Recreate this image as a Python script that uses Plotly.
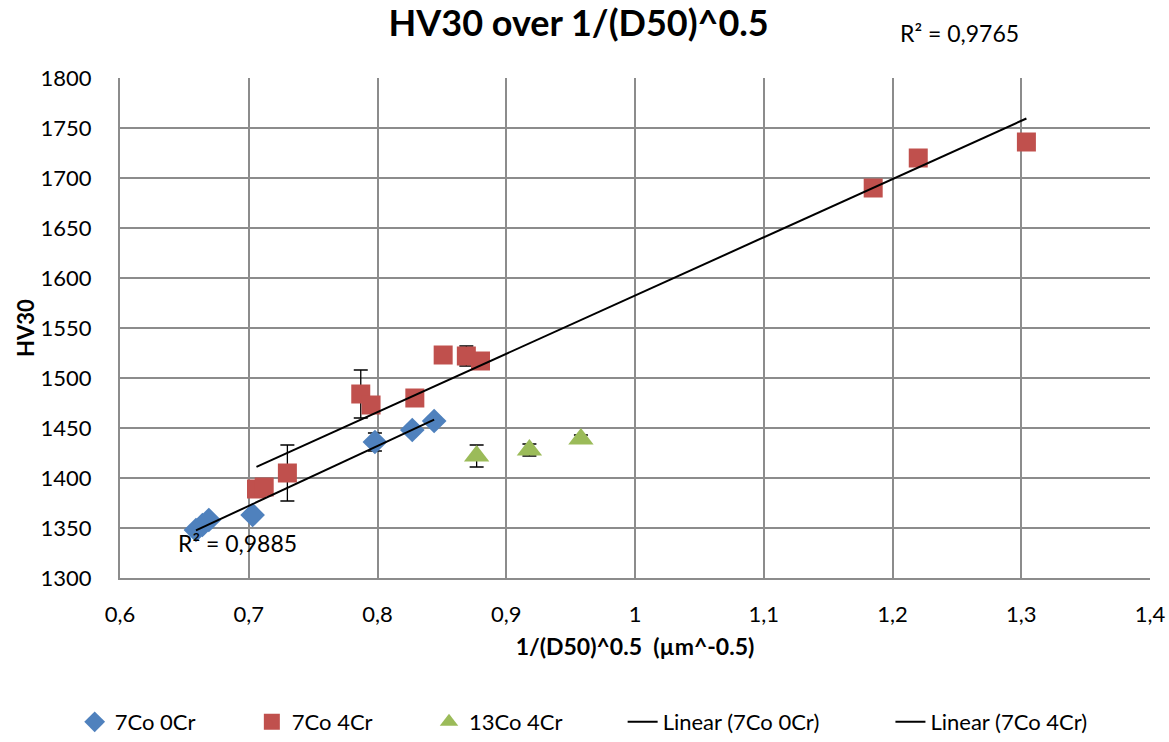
import numpy as np
import plotly.graph_objects as go

# 7Co 0Cr
x_7co0cr = [0.659, 0.664, 0.669, 0.703, 0.798, 0.827, 0.844]
y_7co0cr = [1348, 1353, 1358, 1363, 1436, 1448, 1457]
e_7co0cr = [0, 0, 4, 0, 9, 0, 4]

# 7Co 4Cr
x_7co4cr = [0.706, 0.712, 0.730, 0.787, 0.795, 0.829, 0.851, 0.869, 0.880, 1.185, 1.220, 1.304]
y_7co4cr = [1389, 1391, 1405, 1484, 1473, 1480, 1523, 1522, 1517, 1690, 1720, 1736]
e_7co4cr = [0, 0, 28, 24, 0, 0, 0, 10, 0, 0, 0, 0]

# 13Co 4Cr
x_13co4cr = [0.877, 0.918, 0.958]
y_13co4cr = [1422, 1428, 1439]
e_13co4cr = [11, 6, 4]

x_tickvals = [0.6, 0.7, 0.8, 0.9, 1.0, 1.1, 1.2, 1.3, 1.4]
x_ticktext = ["0,6", "0,7", "0,8", "0,9", "1", "1,1", "1,2", "1,3", "1,4"]

r2_labels = ["R² = 0,9885", "R² = 0,9765"]

BLUE = "#4F81BD"
RED = "#C0504D"
GREEN = "#9BBB59"
FONT = "Lato, Carlito, Calibri, sans-serif"
TXT = dict(color="black", family=FONT)


def trend(xs, ys):
    k, b = np.polyfit(xs, ys, 1)
    xr = np.array([min(xs), max(xs)])
    return xr, k * xr + b


fig = go.Figure()

err_style = dict(type="data", visible=True, color="black", thickness=1.3, width=7)

fig.add_trace(go.Scatter(
    x=x_7co0cr, y=y_7co0cr, mode="markers", name="7Co 0Cr", legend="legend",
    marker=dict(symbol="diamond", size=19, color=BLUE),
    error_y=dict(array=e_7co0cr, **err_style),
))
fig.add_trace(go.Scatter(
    x=x_7co4cr, y=y_7co4cr, mode="markers", name="7Co 4Cr", legend="legend2",
    marker=dict(symbol="square", size=19, color=RED),
    error_y=dict(array=e_7co4cr, **err_style),
))
fig.add_trace(go.Scatter(
    x=x_13co4cr, y=y_13co4cr, mode="markers", name="13Co 4Cr", legend="legend3",
    marker=dict(symbol="triangle-up", size=22, color=GREEN),
    error_y=dict(array=e_13co4cr, **err_style),
))

tx0, ty0 = trend(x_7co0cr, y_7co0cr)
fig.add_trace(go.Scatter(x=tx0, y=ty0, mode="lines", name="Linear (7Co 0Cr)",
                         legend="legend4", line=dict(color="black", width=2)))
tx4, ty4 = trend(x_7co4cr, y_7co4cr)
fig.add_trace(go.Scatter(x=tx4, y=ty4, mode="lines", name="Linear (7Co 4Cr)",
                         legend="legend5", line=dict(color="black", width=2)))

fig.add_annotation(x=0.691, y=1335, text=r2_labels[0], showarrow=False,
                   xanchor="center", yanchor="middle", font=dict(size=23, **TXT))
fig.add_annotation(x=(959 - 120) / 1030, xref="paper", y=1.09, yref="paper",
                   xanchor="center", yanchor="middle",
                   text=r2_labels[1], showarrow=False, font=dict(size=23, **TXT))

axis_style = dict(showgrid=True, gridcolor="#8C8C8C", gridwidth=2, zeroline=False,
                  showline=True, linecolor="#8C8C8C", linewidth=2,
                  ticks="", tickfont=dict(size=22, **TXT))

legend_common = dict(orientation="h", y=-0.288, yanchor="middle", xanchor="left",
                     font=dict(size=22, **TXT), itemwidth=30,
                     bgcolor="rgba(0,0,0,0)")
legend_x = [-0.044, 0.128, 0.300, 0.488, 0.748]

fig.update_layout(
    width=1169, height=742,
    paper_bgcolor="white", plot_bgcolor="white",
    margin=dict(l=120, r=19, t=78, b=164, autoexpand=False),
    title=dict(text="<b>HV30 over 1/(D50)^0.5</b>", x=0.495, xanchor="center",
               y=0.969, yanchor="middle", font=dict(size=36, **TXT)),
    xaxis=dict(range=[0.6, 1.4], tickvals=x_tickvals, ticktext=x_ticktext,
               ticklabelstandoff=16,
               title=dict(text="<b>1/(D50)^0.5  (µm^-0.5)</b>",
                          font=dict(size=23, **TXT), standoff=12),
               **axis_style),
    yaxis=dict(range=[1300, 1800], dtick=50, ticklabelstandoff=22,
               title=dict(text="<b>HV30</b>", font=dict(size=22, **TXT), standoff=0),
               **axis_style),
    legend=dict(x=legend_x[0], **legend_common),
    legend2=dict(x=legend_x[1], **legend_common),
    legend3=dict(x=legend_x[2], **legend_common),
    legend4=dict(x=legend_x[3], **legend_common),
    legend5=dict(x=legend_x[4], **legend_common),
    showlegend=True,
)

fig.write_html("out.html")
